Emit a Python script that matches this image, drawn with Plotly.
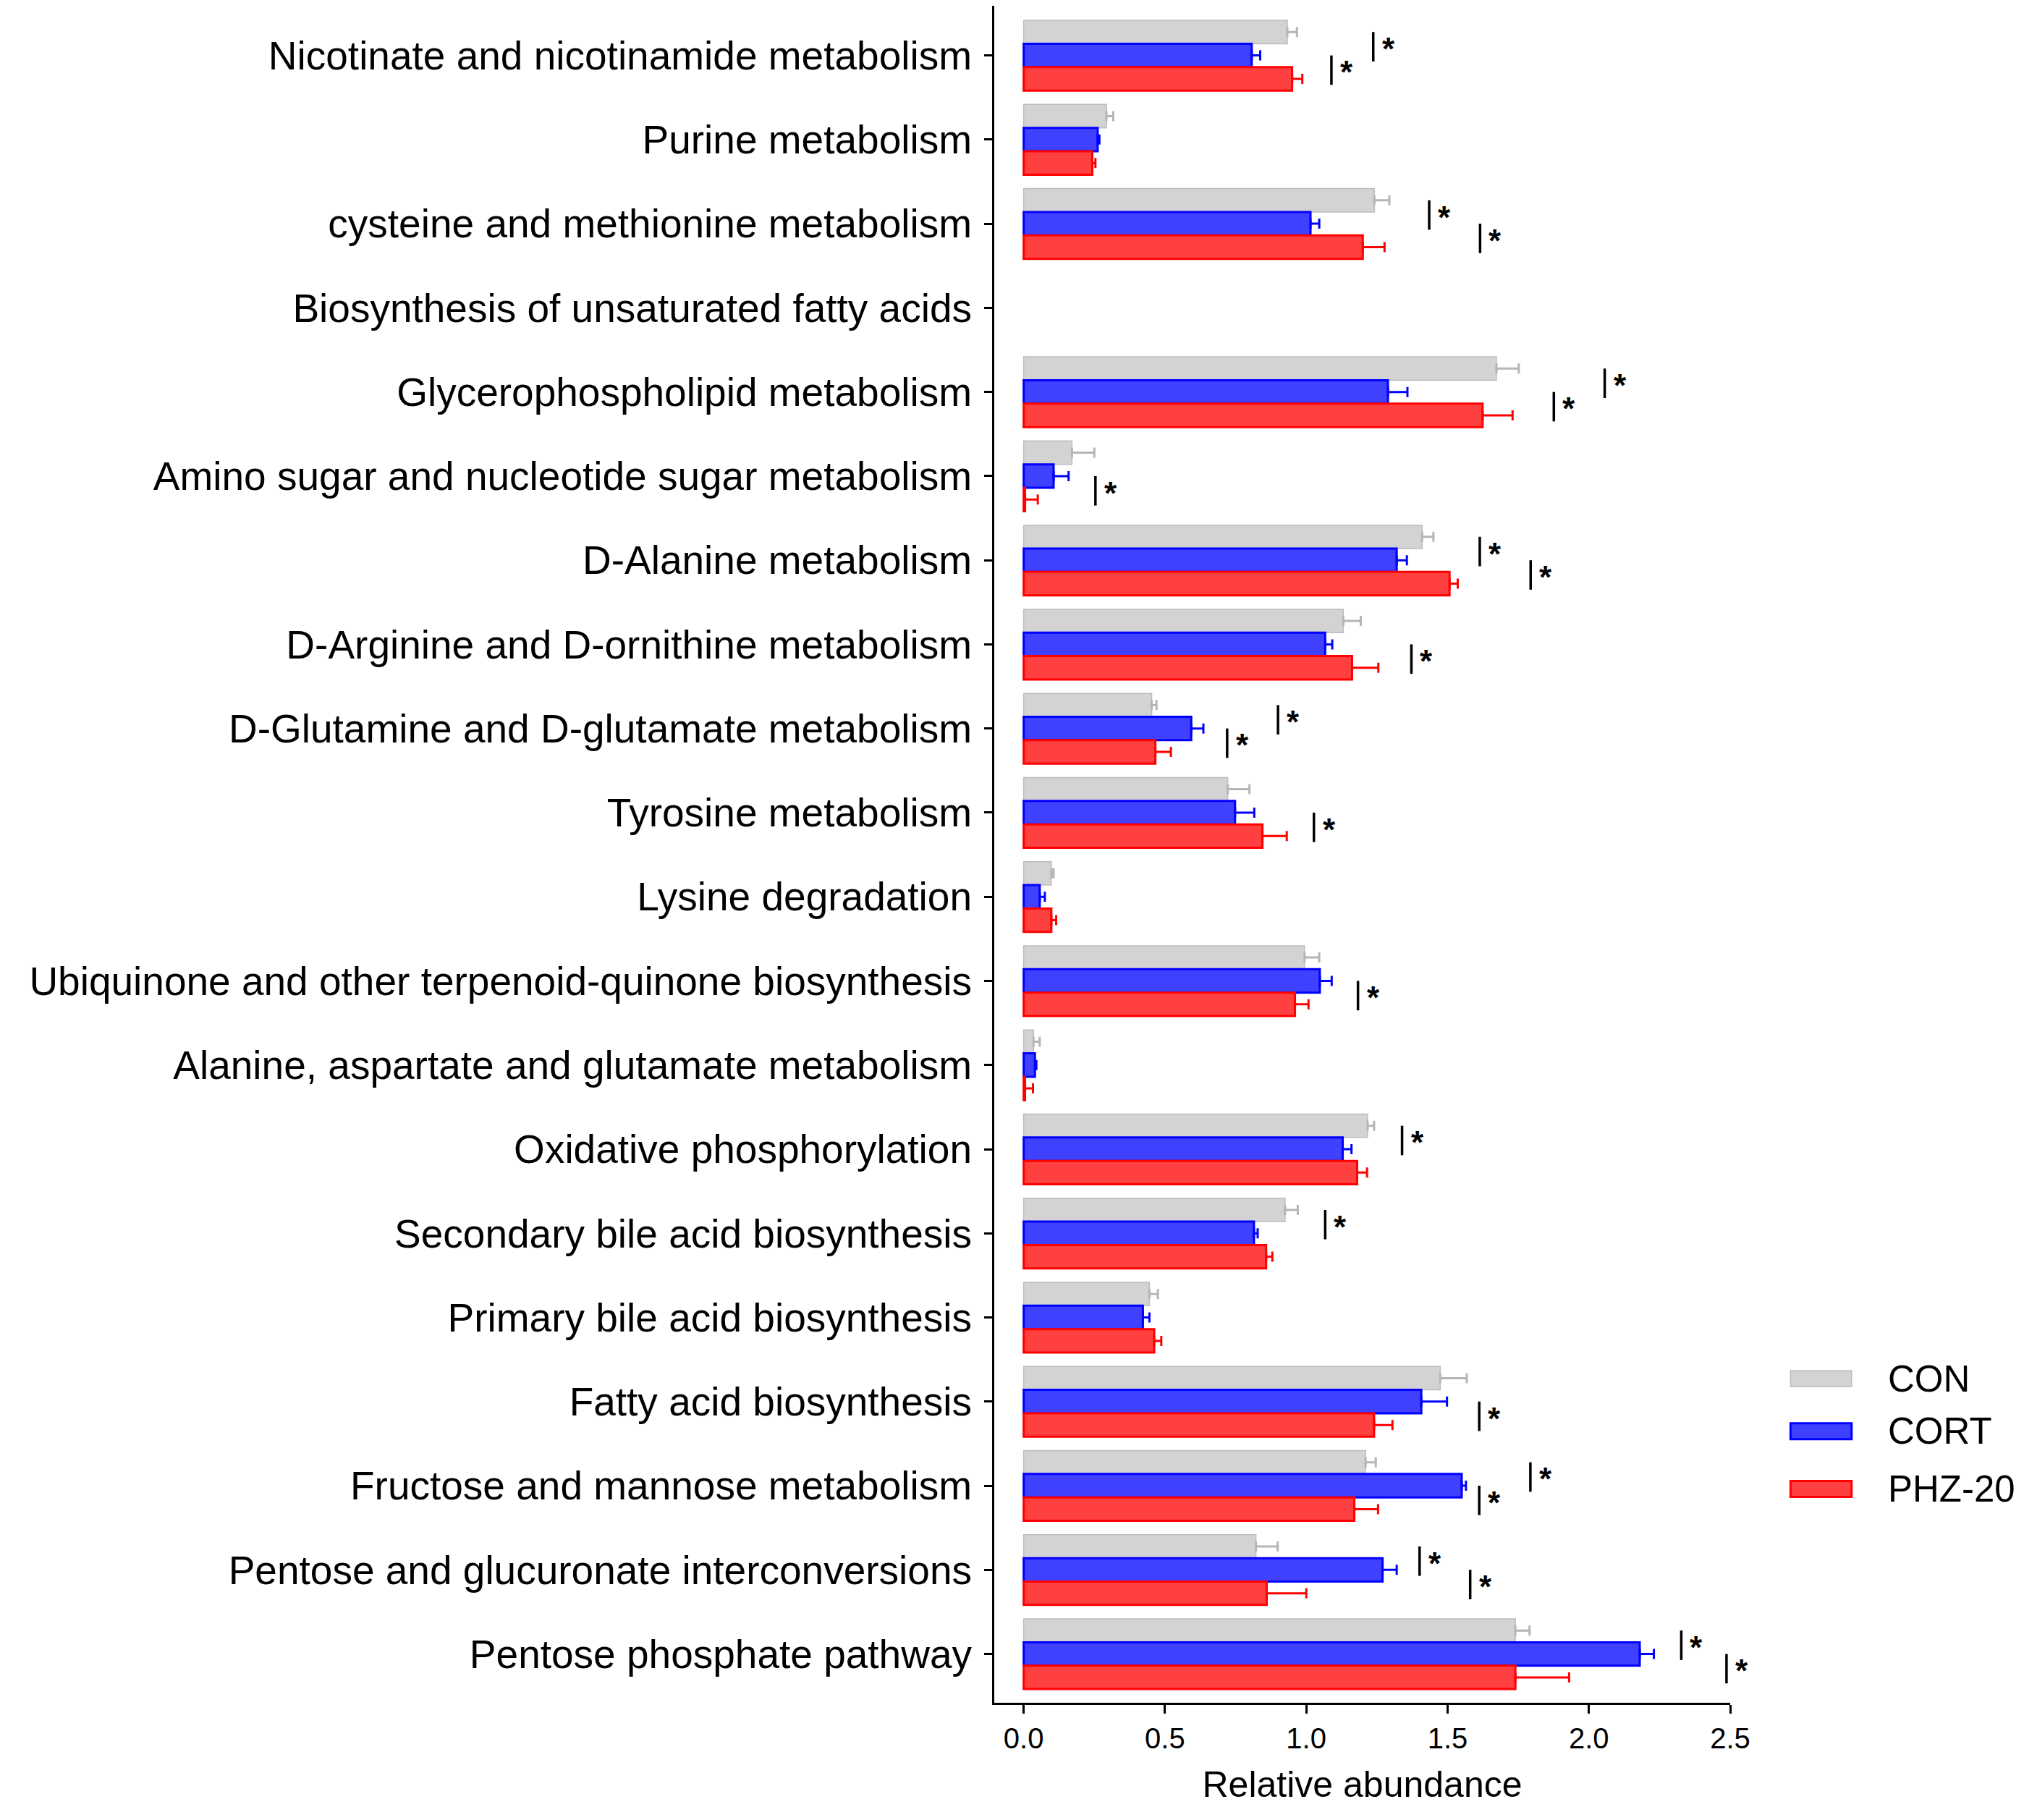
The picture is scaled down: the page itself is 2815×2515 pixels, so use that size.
import plotly.graph_objects as go

# pathway names, top to bottom
pathways = [
    "Nicotinate and nicotinamide metabolism",
    "Purine metabolism",
    "cysteine and methionine metabolism",
    "Biosynthesis of unsaturated fatty acids",
    "Glycerophospholipid metabolism",
    "Amino sugar and nucleotide sugar metabolism",
    "D-Alanine metabolism",
    "D-Arginine and D-ornithine metabolism",
    "D-Glutamine and D-glutamate metabolism",
    "Tyrosine metabolism",
    "Lysine degradation",
    "Ubiquinone and other terpenoid-quinone biosynthesis",
    "Alanine, aspartate and glutamate metabolism",
    "Oxidative phosphorylation",
    "Secondary bile acid biosynthesis",
    "Primary bile acid biosynthesis",
    "Fatty acid biosynthesis",
    "Fructose and mannose metabolism",
    "Pentose and glucuronate interconversions",
    "Pentose phosphate pathway",
]

# relative abundance (mean) and SEM per group
con = [0.933, 0.293, 1.241, None, 1.673, 0.171, 1.410, 1.131, 0.453, 0.722,
       0.098, 0.994, 0.035, 1.217, 0.925, 0.445, 1.474, 1.210, 0.822, 1.740]
con_err = [0.034, 0.024, 0.053, None, 0.079, 0.079, 0.040, 0.062, 0.017, 0.077,
           0.008, 0.052, 0.022, 0.023, 0.045, 0.030, 0.094, 0.036, 0.077, 0.050]
cort = [0.807, 0.262, 1.015, None, 1.289, 0.106, 1.320, 1.067, 0.593, 0.748,
        0.057, 1.048, 0.040, 1.129, 0.815, 0.422, 1.407, 1.550, 1.270, 2.180]
cort_err = [0.030, 0.006, 0.031, None, 0.069, 0.053, 0.036, 0.025, 0.043, 0.068,
            0.018, 0.042, 0.005, 0.031, 0.013, 0.023, 0.091, 0.015, 0.050, 0.050]
phz = [0.950, 0.243, 1.200, None, 1.624, 0.005, 1.507, 1.162, 0.466, 0.845,
       0.098, 0.960, 0.005, 1.180, 0.858, 0.462, 1.240, 1.170, 0.860, 1.740]
phz_err = [0.036, 0.011, 0.077, None, 0.106, 0.045, 0.029, 0.093, 0.055, 0.086,
           0.017, 0.048, 0.028, 0.035, 0.022, 0.025, 0.065, 0.084, 0.140, 0.190]

# x position of the significance marks (None = not significant)
sig_con_cort = [1.237, None, 1.435, None, 2.056, None, 1.614, None, 0.900, None,
                None, None, None, 1.339, 1.067, None, None, 1.793, 1.401, 2.327]
sig_cort_phz = [1.089, None, 1.615, None, 1.876, 0.254, 1.794, 1.372, 0.720, 1.027,
                None, 1.183, None, None, None, None, 1.612, 1.612, 1.580, 2.487]

groups = ["CON", "CORT", "PHZ-20"]
fills = {"CON": "#D3D3D3", "CORT": "#4040FF", "PHZ-20": "#FF4040"}
edges = {"CON": "#BDBDBD", "CORT": "#0000FF", "PHZ-20": "#FF0000"}
edge_w = {"CON": 1.5, "CORT": 3, "PHZ-20": 3}
err_col = {"CON": "#B5B5B5", "CORT": "#0000FF", "PHZ-20": "#FF0000"}

series = {"CON": (con, con_err), "CORT": (cort, cort_err), "PHZ-20": (phz, phz_err)}

FONT = "Liberation Sans, Arial, sans-serif"
bargap = 0.165
bw = (1 - bargap) / 3

fig = go.Figure()
for g in groups:
    vals, errs = series[g]
    fig.add_trace(go.Bar(
        y=pathways, x=vals, orientation="h", name=g, showlegend=False,
        marker=dict(color=fills[g], line=dict(color=edges[g], width=edge_w[g])),
        error_x=dict(type="data", array=errs, arrayminus=[0] * len(errs),
                     symmetric=False, color=err_col[g], thickness=3, width=7),
    ))

# significance brackets: a vertical line between two bars with an asterisk
for offset, marks in [(-bw, sig_con_cort), (0.0, sig_cort_phz)]:
    for i, xv in enumerate(marks):
        if xv is None:
            continue
        top = i + offset
        fig.add_shape(type="line", xref="x", yref="y", x0=xv, x1=xv,
                      y0=top, y1=top + 0.35, line=dict(color="black", width=3.5))
        fig.add_annotation(x=xv, y=top + 0.166, xref="x", yref="y", text="<b>*</b>",
                           showarrow=False, xshift=21, yshift=-4,
                           font=dict(family=FONT, size=44, color="black"))

# legend drawn by hand to get the wide swatches
leg_y = [0.191, 0.160, 0.126]
for g, yc in zip(groups, leg_y):
    fig.add_shape(type="rect", xref="paper", yref="paper", x0=1.082, x1=1.165,
                  y0=yc - 0.0047, y1=yc + 0.0047, fillcolor=fills[g],
                  line=dict(color=edges[g], width=edge_w[g]))
    fig.add_annotation(x=1.212, y=yc, xref="paper", yref="paper", text=g,
                       showarrow=False, xanchor="left", yanchor="middle",
                       font=dict(family=FONT, size=51, color="black"))

fig.update_layout(
    width=2815, height=2515,
    margin=dict(l=1374, r=424, t=8, b=162),
    barmode="group", bargap=bargap, bargroupgap=0,
    plot_bgcolor="white", paper_bgcolor="white",
    font=dict(family=FONT, color="black"),
    xaxis=dict(range=[-0.104, 2.5], tickvals=[0, 0.5, 1.0, 1.5, 2.0, 2.5],
               ticktext=["0.0", "0.5", "1.0", "1.5", "2.0", "2.5"],
               ticks="outside", ticklen=12, tickwidth=3, tickcolor="black",
               showline=True, linewidth=3, linecolor="black",
               showgrid=False, zeroline=False, tickfont=dict(size=40),
               title=dict(text="Relative abundance", font=dict(size=50), standoff=25)),
    yaxis=dict(type="category", categoryorder="array", categoryarray=pathways,
               range=[19.58, -0.59], ticks="outside", ticklen=11, tickwidth=3,
               tickcolor="black", showline=True, linewidth=3, linecolor="black",
               showgrid=False, zeroline=False, tickfont=dict(size=55),
               ticklabelstandoff=6),
)

fig.write_html("out.html", config={"displayModeBar": False},
               post_script="document.body.style.margin='0';")
